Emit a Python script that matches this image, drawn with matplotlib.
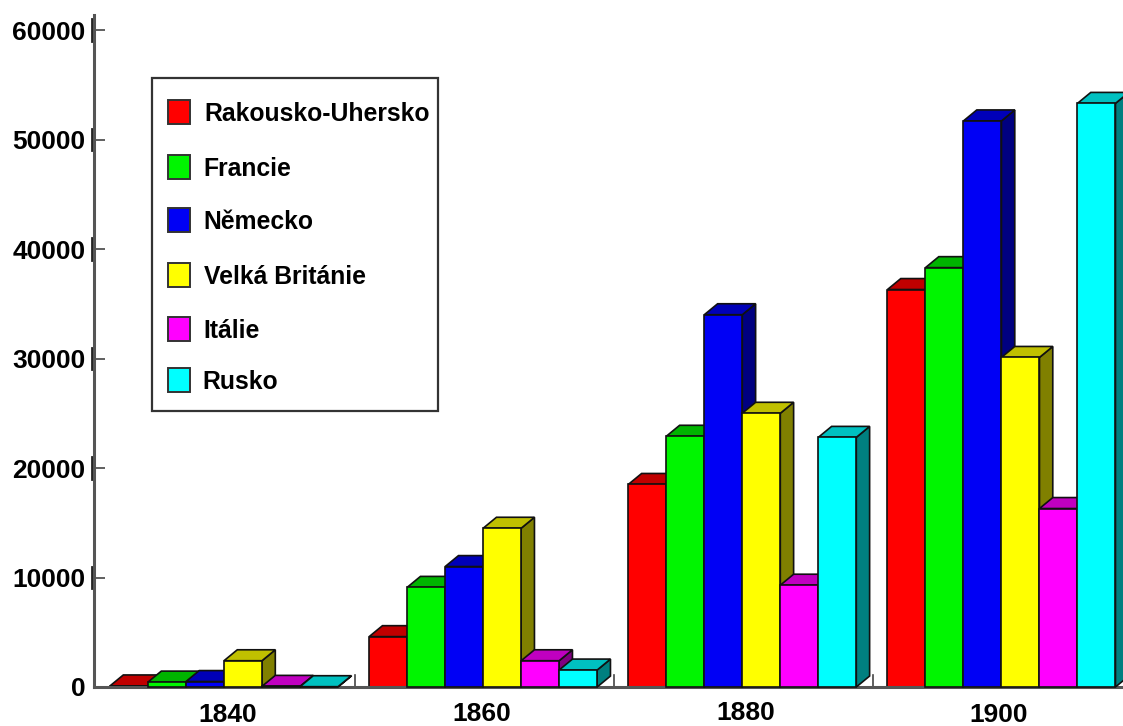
import matplotlib
matplotlib.use("Agg")
import matplotlib.pyplot as plt
from matplotlib.patches import Rectangle
import numpy as np

W, H = 1123, 726

years = ["1840", "1860", "1880", "1900"]
countries = ["Rakousko-Uhersko", "Francie", "Německo", "Velká Británie", "Itálie", "Rusko"]

rakousko = [100, 4600, 18500, 36300]
francie = [450, 9100, 22900, 38300]
nemecko = [500, 11000, 34000, 51700]
britanie = [2400, 14500, 25000, 30100]
italie = [60, 2400, 9300, 16300]
rusko = [30, 1550, 22800, 53300]
series = [rakousko, francie, nemecko, britanie, italie, rusko]

front = ["#ff0000", "#00f500", "#0000f5", "#ffff00", "#ff00ff", "#00ffff"]
top = ["#c00000", "#00b400", "#0000b8", "#c0c000", "#c000c0", "#00c0c0"]
side = ["#900000", "#008000", "#000080", "#808000", "#800080", "#008080"]

yticks = [0, 10000, 20000, 30000, 40000, 50000, 60000]

plt.rcParams['font.family'] = ['Liberation Sans', 'DejaVu Sans']
plt.rcParams['font.weight'] = 'bold'

fig = plt.figure(figsize=(W / 100, H / 100), dpi=100)
ax = fig.add_axes([94 / W, (H - 687) / H, (W - 94) / W, 687 / H])

px_bar = 38.0  # one bar width in pixels, x axis counts in bar widths
ax.set_xlim(0, (W - 94) / px_bar)
ax.set_ylim(0, 687 / 657 * 60000)

dx, dy = 0.35, 1000
group_x = 0.421 + 6.82 * np.arange(len(years))

for g in range(len(years)):
    for s in range(len(series)):
        x0 = group_x[g] + s
        x1 = x0 + 1
        v = series[s][g]
        ax.fill([x1, x1 + dx, x1 + dx, x1], [0, dy, v + dy, v], color=side[s], ec='#111111', lw=1.2, clip_on=False, zorder=2 + s)
        ax.fill([x0, x0 + dx, x1 + dx, x1], [v, v + dy, v + dy, v], color=top[s], ec='#111111', lw=1.2, clip_on=False, zorder=2 + s)
        ax.bar(x0, v, width=1, align='edge', color=front[s], edgecolor='#111111', lw=1.2, clip_on=False, zorder=2 + s)
    # little notch at the end of each group
    ax.plot([group_x[g] + 6.45] * 2, [0, 1100], color='#444444', lw=1.2, zorder=1)

for name in ['top', 'right']:
    ax.spines[name].set_visible(False)
ax.spines['left'].set_color('#555555')
ax.spines['left'].set_linewidth(2.2)
ax.spines['left'].set_bounds(0, 61400)
ax.spines['bottom'].set_color('#555555')
ax.spines['bottom'].set_linewidth(2.2)

ax.set_xticks([])
ax.set_yticks(yticks)
ax.set_yticklabels([str(t) for t in yticks], fontsize=19, fontweight='bold')
ax.tick_params(axis='y', direction='in', length=8, width=1.2, color='#444444', pad=6)

# dark marks just left of the axis next to the labels
for t in yticks[1:]:
    ax.plot([-0.05, -0.05], [t - 1000, t + 1000], color='#222222', lw=2, clip_on=False)


def to_fig(x, y):
    return x / W, 1 - y / H


# year labels sit at slightly different heights
for label, xp, yp in zip(years, [228, 482, 746, 999], [715, 714, 713, 715]):
    fx, fy = to_fig(xp, yp)
    fig.text(fx, fy, label, fontsize=19, fontweight='bold', ha='center', va='center')

# legend box
bx, by = to_fig(152, 411)
fig.add_artist(Rectangle((bx, by), 286 / W, 333 / H, transform=fig.transFigure, fc='white', ec='#333333', lw=1.6, zorder=5))
legend_y = [112, 167, 220, 275, 329, 380]
legend_tx = [204, 203, 203, 204, 203, 202]
for name, col, yp, tx in zip(countries, front, legend_y, legend_tx):
    sx, sy = to_fig(168, yp + 12)
    fig.add_artist(Rectangle((sx, sy), 22 / W, 24 / H, transform=fig.transFigure, fc=col, ec='#333333', lw=1.4, zorder=6))
    fx, fy = to_fig(tx, yp + 2)
    fig.text(fx, fy, name, fontsize=17.8, fontweight='bold', ha='left', va='center', zorder=6)

fig.savefig("out.png", dpi=100)
